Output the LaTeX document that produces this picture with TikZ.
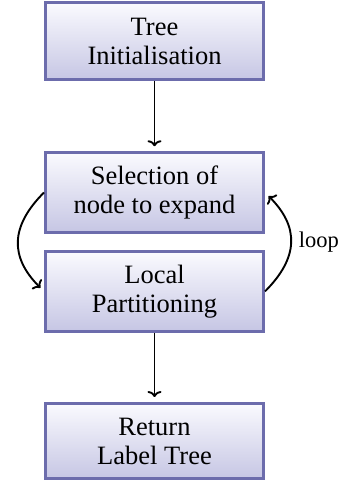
\documentclass[tikz,border=0pt]{standalone}
\usepackage{fontspec}
\setmainfont{Liberation Serif}
\usetikzlibrary{arrows.meta}
\definecolor{boxborder}{RGB}{108,108,172}
\definecolor{boxtop}{RGB}{250,250,254}
\definecolor{boxbot}{RGB}{198,198,228}
\tikzset{
  stepbox/.style={draw=boxborder, line width=3pt, top color=boxtop, bottom color=boxbot,
    minimum width=218pt, align=center, inner sep=0pt,
    font=\fontsize{26.5}{29}\selectfont},
  flow/.style={line width=1.9pt, -{To[length=6pt,width=14pt]}, shorten >=5pt},
}
\begin{document}
\begin{tikzpicture}[x=1pt,y=1pt]
\useasboundingbox (0,0) rectangle (344,481);
\node[stepbox, minimum height=76.5pt] (init) at (154.5,439.75) {Tree\\Initialisation};
\node[stepbox, minimum height=79.5pt] (sel) at (154.5,288.5) {Selection of\\node to expand};
\node[stepbox, minimum height=79.5pt] (loc) at (154.5,189.6) {Local\\Partitioning};
\node[stepbox, minimum height=75pt] (ret) at (154.5,40) {Return\\Label Tree};
\draw[flow] (init.south) -- (sel.north);
\draw[flow] (loc.south) -- (ret.north);
\draw[flow] (sel.west) to[out=225, in=135, looseness=1.25] (loc.west);
\draw[flow] (loc.east) to[out=45, in=-45, looseness=1.25] node[right, font=\fontsize{22.5}{26}\selectfont, xshift=4pt] (looplbl) {loop} (sel.east);
\end{tikzpicture}
\end{document}
